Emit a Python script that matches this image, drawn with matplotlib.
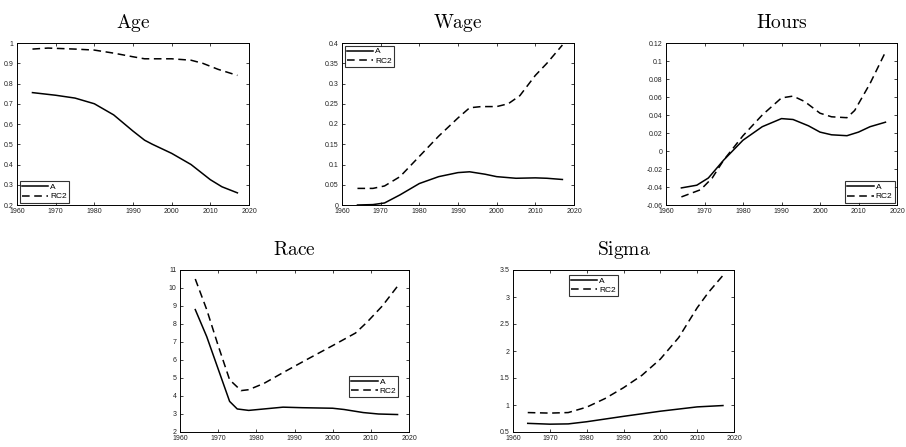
import matplotlib
matplotlib.use("Agg")
import matplotlib.pyplot as plt

plt.rcParams['font.family'] = ['Liberation Sans', 'DejaVu Sans']
plt.rcParams['mathtext.fontset'] = 'cm'

# Age
age_x = [1964, 1970, 1975, 1980, 1985, 1990, 1993, 1995, 2000, 2005, 2010, 2013, 2017]
age_a = [0.755, 0.742, 0.728, 0.70, 0.645, 0.565, 0.52, 0.50, 0.455, 0.40, 0.325, 0.29, 0.26]
age_rc2_x = [1964, 1968, 1975, 1980, 1985, 1990, 1993, 2000, 2005, 2008, 2012, 2017]
age_rc2 = [0.97, 0.975, 0.97, 0.965, 0.95, 0.932, 0.922, 0.922, 0.915, 0.90, 0.87, 0.84]

# Wage
wage_x = [1964, 1968, 1971, 1975, 1980, 1985, 1990, 1993, 1997, 2000, 2005, 2010, 2013, 2017]
wage_a = [0.0, 0.001, 0.005, 0.025, 0.053, 0.07, 0.08, 0.082, 0.076, 0.07, 0.066, 0.067, 0.066, 0.063]
wage_rc2_x = [1964, 1968, 1971, 1975, 1980, 1985, 1990, 1993, 1996, 2000, 2003, 2006, 2010, 2013, 2017]
wage_rc2 = [0.041, 0.041, 0.047, 0.07, 0.12, 0.17, 0.215, 0.24, 0.243, 0.243, 0.25, 0.27, 0.32, 0.35, 0.395]

# Hours
hours_x = [1964, 1968, 1971, 1975, 1980, 1985, 1990, 1993, 1997, 2000, 2003, 2007, 2010, 2013, 2017]
hours_a = [-0.041, -0.038, -0.03, -0.01, 0.012, 0.027, 0.036, 0.035, 0.028, 0.021, 0.018, 0.017, 0.021, 0.027, 0.032]
hours_rc2_x = [1964, 1969, 1972, 1975, 1980, 1985, 1990, 1993, 1996, 2000, 2003, 2007, 2009, 2013, 2017]
hours_rc2 = [-0.051, -0.043, -0.03, -0.01, 0.017, 0.04, 0.059, 0.061, 0.055, 0.042, 0.038, 0.037, 0.045, 0.075, 0.11]

# Race
race_x = [1964, 1967, 1970, 1973, 1975, 1978, 1982, 1987, 1992, 2000, 2003, 2008, 2012, 2017]
race_a = [8.8, 7.3, 5.5, 3.7, 3.28, 3.2, 3.28, 3.38, 3.35, 3.32, 3.25, 3.08, 3.0, 2.97]
race_rc2_x = [1964, 1967, 1970, 1973, 1976, 1978, 1982, 1987, 1993, 2000, 2006, 2009, 2013, 2017]
race_rc2 = [10.5, 8.8, 6.8, 4.9, 4.3, 4.35, 4.7, 5.3, 6.0, 6.8, 7.5, 8.1, 9.0, 10.1]

# Sigma
sigma_x = [1964, 1970, 1975, 1980, 1990, 2000, 2010, 2017]
sigma_a = [0.66, 0.645, 0.65, 0.69, 0.79, 0.885, 0.965, 0.99]
sigma_rc2_x = [1964, 1970, 1975, 1980, 1985, 1990, 1995, 2000, 2005, 2010, 2013, 2017]
sigma_rc2 = [0.86, 0.85, 0.86, 0.96, 1.12, 1.32, 1.55, 1.85, 2.25, 2.8, 3.08, 3.4]

W, H = 906, 447
fig = plt.figure(figsize=(W / 100, H / 100), dpi=100)

def px_axes(l, t, r, b):
    return fig.add_axes([l / W, 1 - b / H, (r - l) / W, (b - t) / H])

panels = [
    ("Age", (17, 43, 249, 205), age_x, age_a, age_rc2_x, age_rc2, (0.2, 1.0), 0.1,
     dict(loc='lower left')),
    ("Wage", (342, 43, 574, 205), wage_x, wage_a, wage_rc2_x, wage_rc2, (0, 0.4), 0.05,
     dict(loc='upper left')),
    ("Hours", (666, 43, 897, 205), hours_x, hours_a, hours_rc2_x, hours_rc2, (-0.06, 0.12), 0.02,
     dict(loc='lower right')),
    ("Race", (180, 270, 409, 432), race_x, race_a, race_rc2_x, race_rc2, (2, 11), 1,
     dict(loc='lower right', bbox_to_anchor=(0.965, 0.2))),
    ("Sigma", (513, 270, 734, 432), sigma_x, sigma_a, sigma_rc2_x, sigma_rc2, (0.5, 3.5), 0.5,
     dict(loc='upper left', bbox_to_anchor=(0.24, 0.985))),
]

for title, box, xa, ya, xr, yr, ylim, step, leg in panels:
    ax = px_axes(*box)
    ax.plot(xa, ya, color='black', lw=1.1, label='A')
    ax.plot(xr, yr, color='black', lw=1.1, ls=(0, (5, 3)), label='RC2')
    ax.set_xlim(1960, 2020)
    ax.set_ylim(*ylim)
    ax.set_xticks(range(1960, 2021, 10))
    n = int(round((ylim[1] - ylim[0]) / step))
    ax.set_yticks([round(ylim[0] + i * step, 4) for i in range(n + 1)])
    ax.yaxis.set_major_formatter(matplotlib.ticker.FuncFormatter(lambda v, p: ('%g' % v)))
    ax.tick_params(direction='in', top=True, right=True, labelsize=5, length=2.2,
                   width=0.6, pad=2.5, colors='#222222')
    for s in ax.spines.values():
        s.set_linewidth(0.7)
    ax.set_title(r'$\mathrm{%s}$' % title, fontsize=14, pad=11)
    lg = ax.legend(fontsize=6, frameon=True, fancybox=False, edgecolor='black',
                   handlelength=3.2, handletextpad=0.2, borderpad=0.25,
                   labelspacing=0.2, borderaxespad=0.3, **leg)
    lg.get_frame().set_linewidth(0.8)

fig.savefig('out.png', dpi=100)
